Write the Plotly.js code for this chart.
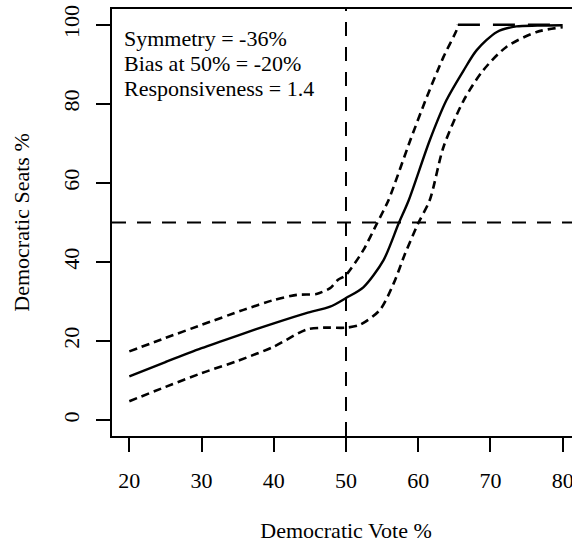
<!DOCTYPE html>
<html>
<head>
<meta charset="utf-8">
<script src="https://cdn.plot.ly/plotly-3.0.1.min.js"></script>
<style>
html, body { margin: 0; padding: 0; overflow: hidden; background: #fff; }
#chart { width: 580px; height: 543px; }
</style>
</head>
<body>
<div id="chart"></div>
<script>
// Seats-votes curve (median) and its uncertainty bounds
const voteMid  = [20, 25, 30, 35, 40, 44.5, 47.8, 50, 52.4, 55.2, 57.3, 58.7, 61.6, 63.9, 66.3, 68.1, 70.9, 73.6, 76.5, 80];
const seatsMid = [11.1, 14.7, 18.2, 21.4, 24.5, 27.1, 28.7, 30.9, 33.6, 40.5, 49.8, 55.7, 70.8, 80.9, 88.5, 93.6, 98.2, 99.6, 99.8, 99.9];

const voteUpper  = [20, 25, 30, 35.8, 40, 43.2, 45.9, 47.8, 48.9, 50, 52.4, 54.3, 55.9, 58.9, 61.2, 63.5, 65.3, 65.5, 80];
const seatsUpper = [17.4, 20.8, 24.1, 27.9, 30.4, 31.7, 31.9, 33.4, 35.5, 36.7, 43.0, 49.8, 55.7, 70.8, 81.8, 91.9, 98.6, 100, 100];

const voteLower  = [20, 25, 30, 35, 40, 44.5, 46.9, 50, 51.9, 54.7, 56.6, 58.2, 60, 61.6, 63.5, 66.3, 69, 72.2, 76.4, 80];
const seatsLower = [4.8, 8.4, 11.9, 15.0, 18.6, 22.9, 23.4, 23.4, 24.1, 27.9, 34.6, 42.2, 49.8, 55.7, 69.1, 80.9, 88.5, 94.4, 98.2, 99.4];

const refVote = 50;
const refSeats = 50;

const xTicks = [20, 30, 40, 50, 60, 70, 80];
const yTicks = [0, 20, 40, 60, 80, 100];

const statLabels = ["Symmetry = -36%", "Bias at 50% = -20%", "Responsiveness = 1.4"];

const FONT = "Liberation Serif";

// split upper bound into rising part and flat part at 100
const firstFlat = seatsUpper.indexOf(100);
const upRiseX = voteUpper.slice(0, firstFlat + 1), upRiseY = seatsUpper.slice(0, firstFlat + 1);
const upFlatX = voteUpper.slice(firstFlat), upFlatY = seatsUpper.slice(firstFlat);

const traces = [
  {x: voteMid, y: seatsMid, mode: "lines", line: {color: "#000", width: 2.4, shape: "spline", smoothing: 0.8}, hoverinfo: "skip"},
  {x: upRiseX, y: upRiseY, mode: "lines", line: {color: "#000", width: 2.6, dash: "8px,5px", shape: "spline", smoothing: 0.6}, hoverinfo: "skip"},
  {x: upFlatX, y: upFlatY, mode: "lines", line: {color: "#000", width: 2.4, dash: "22px,13px"}, hoverinfo: "skip"},
  {x: voteLower, y: seatsLower, mode: "lines", line: {color: "#000", width: 2.6, dash: "8px,5px", shape: "spline", smoothing: 0.8}, hoverinfo: "skip"}
];

const annY = [96.6, 90.3, 84.0];
const annotations = statLabels.map((t, i) => ({
  text: t, xref: "x", yref: "y", x: 18.95, y: annY[i],
  xanchor: "left", yanchor: "middle", showarrow: false,
  font: {family: FONT, size: 22, color: "#000"}
}));

const layout = {
  width: 580, height: 543,
  margin: {l: 112, r: 0, t: 9, b: 107},
  paper_bgcolor: "#fff", plot_bgcolor: "#fff",
  showlegend: false,
  font: {family: FONT, size: 22, color: "#000"},
  xaxis: {
    range: [17.6, 82.4], tickvals: xTicks, ticktext: xTicks.map(String),
    showgrid: false, zeroline: false,
    showline: true, mirror: true, linecolor: "#000", linewidth: 2,
    ticks: "outside", ticklen: 14, tickwidth: 2, tickcolor: "#000",
    ticklabelstandoff: 10,
    tickfont: {family: FONT, size: 22, color: "#000"},
    title: {text: "Democratic Vote %", font: {family: FONT, size: 22, color: "#000"}, standoff: 30},
    automargin: false
  },
  yaxis: {
    range: [-4, 104], tickvals: yTicks, ticktext: yTicks.map(String),
    showgrid: false, zeroline: false,
    showline: true, mirror: true, linecolor: "#000", linewidth: 2,
    ticks: "outside", ticklen: 14, tickwidth: 2, tickcolor: "#000",
    tickangle: -90, ticklabelstandoff: 8,
    tickfont: {family: FONT, size: 22, color: "#000"},
    title: {text: "Democratic Seats %", font: {family: FONT, size: 22, color: "#000"}, standoff: 24},
    automargin: false
  },
  shapes: [
    {type: "line", xref: "x", yref: "paper", x0: refVote, x1: refVote, y0: 0, y1: 1,
     line: {color: "#000", width: 2, dash: "14px,11px"}},
    {type: "line", xref: "paper", yref: "y", x0: 0, x1: 1, y0: refSeats, y1: refSeats,
     line: {color: "#000", width: 2, dash: "14px,11px"}}
  ],
  annotations: annotations
};

Plotly.newPlot("chart", traces, layout, {displayModeBar: false, staticPlot: true});
</script>
</body>
</html>
